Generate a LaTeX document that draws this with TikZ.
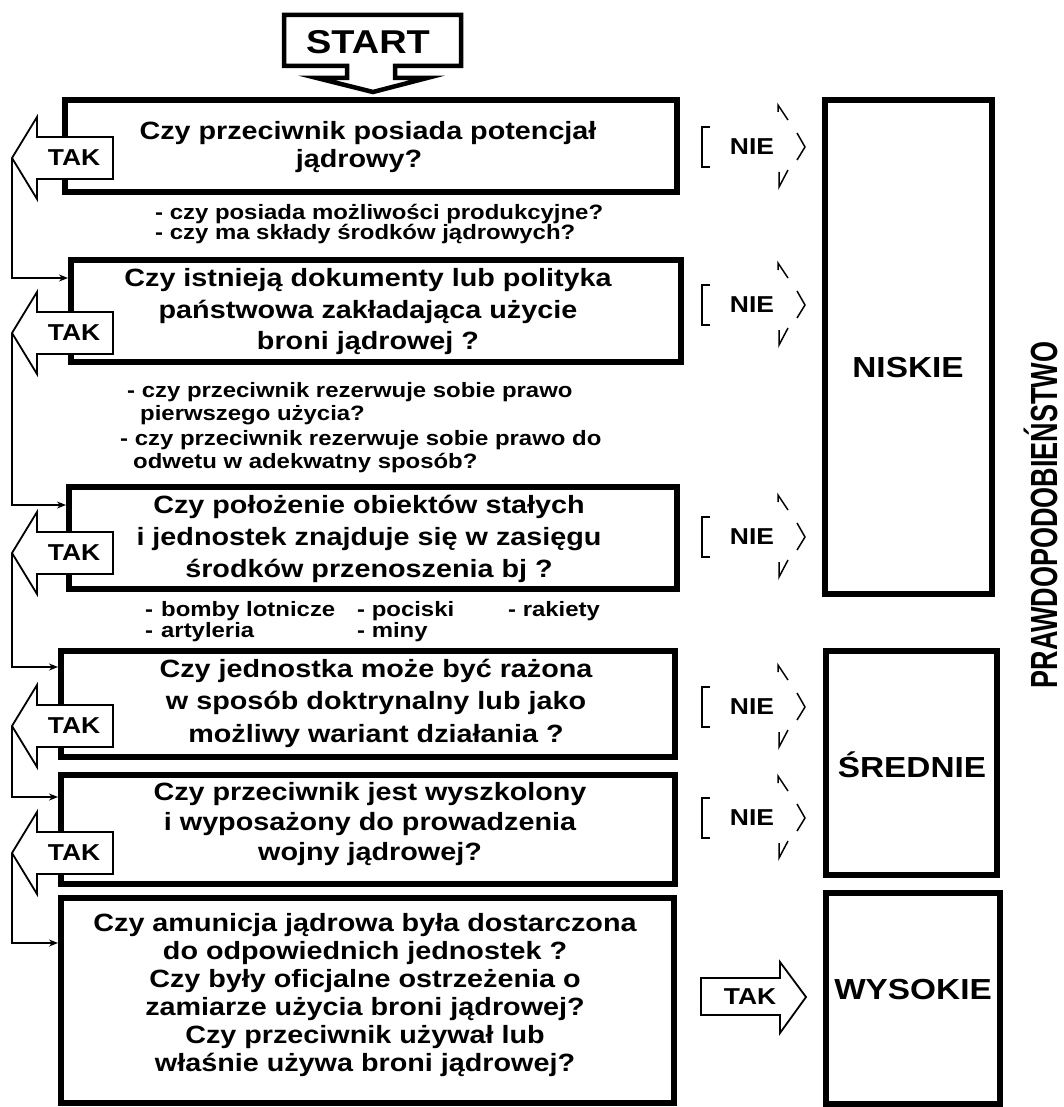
\documentclass[tikz,border=0pt]{standalone}
\usepackage{fontspec}
\setmainfont{Liberation Sans}[FakeStretch=1.15]
\usetikzlibrary{arrows.meta}
\newcommand{\fq}[1]{\fontsize{25}{#1}\selectfont\bfseries}
\newcommand{\fsub}{\fontsize{20.8}{22}\selectfont\bfseries}
\newcommand{\ftak}{\fontsize{23}{26}\selectfont\bfseries}
\newcommand{\fbig}{\fontsize{29}{32}\selectfont\bfseries}
\newcommand{\takarrow}[2]{%
  \draw[thinl, fill=white] (113,#2-21) -- (37,#2-21) -- (37,#2-41) -- (12,#2) -- (37,#2+41) -- (37,#2+21) -- (113,#2+21) -- cycle;
  \node[lbl] (#1) at (74,#2) {TAK};
  \coordinate (#1tip) at (12,#2);
}
\newcommand{\niearrow}[2]{%
  \node[lbl] (#1) at (752,#2) {NIE};
  \draw[frag] (710,#2-20) -- (702,#2-20) -- (702,#2+20) -- (710,#2+20);
  \draw[frag] (778,#2-35) -- (778,#2-42) -- (788,#2-27);
  \draw[frag] (797,#2-14) -- (805,#2) -- (797,#2+13);
  \draw[frag] (779,#2+25) -- (779,#2+40) -- (788,#2+23);
}
\begin{document}
\begin{tikzpicture}[x=1pt,y=-1pt,
  box/.style={draw=black, line width=6.5pt, inner sep=0pt},
  q/.style={font={\fq{#1}}, align=center, inner sep=0pt},
  sub/.style={font=\fsub, anchor=base west, inner sep=0pt},
  lbl/.style={font=\ftak, inner sep=0pt},
  big/.style={font=\fbig, inner sep=0pt},
  thinl/.style={line width=1.8pt},
  frag/.style={line width=1.5pt},
  conn/.style={line width=1.8pt, -{Stealth[length=9pt,width=7pt]}}]
\useasboundingbox (0,0) rectangle (1064,1107);
\fill[white] (0,0) rectangle (1064,1107);

% START
\draw[line width=4.5pt, line join=miter] (347,66) -- (284,66) -- (284,15) -- (461,15) -- (461,66) -- (395,66) -- (395,78) -- (427,78) -- (373,92) -- (317,78) -- (347,78) -- cycle;
\node[inner sep=0pt, font=\fontsize{33}{36}\selectfont\bfseries] (start) at (368,42) {START};

% question boxes
\node[box, minimum width=612pt, minimum height=92pt] (b1) at (371,146) {};
\node[box, minimum width=610pt, minimum height=102pt] (b2) at (376,311) {};
\node[box, minimum width=608pt, minimum height=102pt] (b3) at (373,538) {};
\node[box, minimum width=614pt, minimum height=106pt] (b4) at (368,704) {};
\node[box, minimum width=614pt, minimum height=109pt] (b5) at (368,829.5) {};
\node[box, minimum width=613pt, minimum height=205pt] (b6) at (367.5,1000.5) {};

\node[q=28] (t1) at (368,147.5) {Czy przeciwnik posiada potencjał\\jądrowy?\hspace*{18pt}};
\node[q=31.5] (t2) at (368,312) {Czy istnieją dokumenty lub polityka\\państwowa zakładająca użycie\\broni jądrowej ?};
\node[q=32] (t3) at (369,538.5) {Czy położenie obiektów stałych\\i jednostek znajduje się w zasięgu\\środków przenoszenia bj ?};
\node[q=32.5] (t4) at (376,703) {Czy jednostka może być rażona\\w sposób doktrynalny lub jako\\możliwy wariant działania ?};
\node[q=30] (t5) at (370,824) {Czy przeciwnik jest wyszkolony\\i wyposażony do prowadzenia\\wojny jądrowej?};
\node[q=28] (t6) at (365,995.5) {Czy amunicja jądrowa była dostarczona\\do odpowiednich jednostek ?\\Czy były oficjalne ostrzeżenia o\\zamiarze użycia broni jądrowej?\\Czy przeciwnik używał lub\\właśnie używa broni jądrowej?};

% sub questions
\node[sub] (s1a) at (155,220) {- czy posiada możliwości produkcyjne?};
\node[sub] (s1b) at (155,240) {- czy ma składy środków jądrowych?};
\node[sub] (s2a) at (127,397) {- czy przeciwnik rezerwuje sobie prawo};
\node[sub] (s2b) at (140,420) {pierwszego użycia?};
\node[sub] (s2c) at (120,445) {- czy przeciwnik rezerwuje sobie prawo do};
\node[sub] (s2d) at (133,468) {odwetu w adekwatny sposób?};
\node[sub] (s3a) at (145,616) {-\hspace{8pt}bomby lotnicze};
\node[sub] (s3b) at (357,616) {- pociski};
\node[sub] (s3c) at (508,616) {- rakiety};
\node[sub] (s3d) at (145,637) {-\hspace{8pt}artyleria};
\node[sub] (s3e) at (357,637) {- miny};

% result boxes
\node[box, minimum width=167pt, minimum height=494pt] (low) at (908.5,347) {};
\node[box, minimum width=171pt, minimum height=224pt] (mid) at (911.5,763) {};
\node[box, minimum width=174pt, minimum height=211pt] (high) at (913,998.5) {};
\node[big] (lowt) at (908,368) {NISKIE};
\node[big] (midt) at (912,765) {ŚREDNIE};
\node[big] (hight) at (913,990) {WYSOKIE};
\node[inner sep=0pt, rotate=90] (prob) at (1041,515) {\scalebox{0.87}[1.4]{\fontsize{27}{30}\selectfont\bfseries PRAWDOPODOBIEŃSTWO}};

% TAK arrows (left)
\takarrow{tak1}{158}
\takarrow{tak2}{333}
\takarrow{tak3}{553}
\takarrow{tak4}{726}
\takarrow{tak5}{853}

% connectors
\coordinate (e2) at (68,278);
\coordinate (e3) at (66,505);
\coordinate (e4) at (58,667);
\coordinate (e5) at (58,797);
\coordinate (e6) at (58,943);
\draw[conn] (tak1tip) |- (e2);
\draw[conn] (tak2tip) |- (e3);
\draw[conn] (tak3tip) |- (e4);
\draw[conn] (tak4tip) |- (e5);
\draw[conn] (tak5tip) |- (e6);

% NIE arrows
\niearrow{nie1}{147}
\niearrow{nie2}{305}
\niearrow{nie3}{537}
\niearrow{nie4}{707}
\niearrow{nie5}{818}

% final TAK arrow
\draw[thinl, line join=miter] (701,978) -- (780,978) -- (780,962) -- (806,997) -- (780,1033) -- (780,1015) -- (701,1015) -- cycle;
\node[lbl] (takr) at (750,997) {TAK};
\end{tikzpicture}
\end{document}
